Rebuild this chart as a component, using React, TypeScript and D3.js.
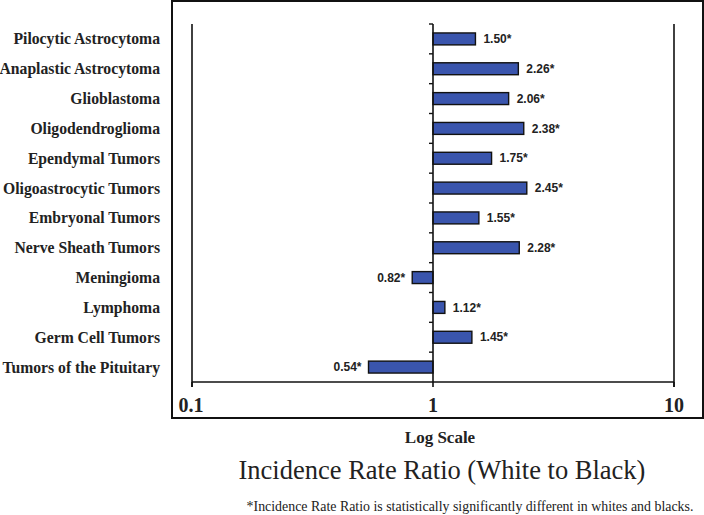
import React from "react";
import * as d3 from "d3";

const categories = [
  "Pilocytic Astrocytoma",
  "Anaplastic Astrocytoma",
  "Glioblastoma",
  "Oligodendroglioma",
  "Ependymal Tumors",
  "Oligoastrocytic Tumors",
  "Embryonal Tumors",
  "Nerve Sheath Tumors",
  "Meningioma",
  "Lymphoma",
  "Germ Cell Tumors",
  "Tumors of the Pituitary",
];
const values = [1.5, 2.26, 2.06, 2.38, 1.75, 2.45, 1.55, 2.28, 0.82, 1.12, 1.45, 0.54];
const valueLabels = ["1.50*", "2.26*", "2.06*", "2.38*", "1.75*", "2.45*", "1.55*", "2.28*", "0.82*", "1.12*", "1.45*", "0.54*"];
const xTicks = [0.1, 1, 10];
const xTickLabels = ["0.1", "1", "10"];

export default function App() {
  const W = 704, H = 515;
  const left = 192, right = 674, top = 24, bottom = 382;
  const x = d3.scaleLog().domain([0.1, 10]).range([left, right]);
  const y = d3.scaleBand<string>().domain(categories).range([top, bottom]).paddingInner(0.6).paddingOuter(0.3);
  const yb = d3.scaleBand<string>().domain(categories).range([top, bottom]);
  const x1 = x(1);
  const serif = "'Liberation Serif', 'Times New Roman', serif";
  const sans = "'Liberation Sans', Arial, sans-serif";
  return (
    <svg width={W} height={H} style={{ position: "absolute", left: 0, top: 0, background: "#fff" }}>
      <rect x={0} y={0} width={W} height={H} fill="#fff" />
      <rect x={172} y={1} width={531} height={417} fill="none" stroke="#111" strokeWidth={2} />
      <line x1={left} x2={left} y1={top} y2={bottom + 5} stroke="#111" strokeWidth={1.6} />
      <line x1={right} x2={right} y1={top} y2={bottom + 5} stroke="#111" strokeWidth={1.6} />
      <line x1={left} x2={right} y1={bottom} y2={bottom} stroke="#111" strokeWidth={1.6} />
      {xTicks.map((t, i) => (
        <g key={i}>
          <line x1={x(t)} x2={x(t)} y1={bottom} y2={bottom + 5} stroke="#111" strokeWidth={1.6} />
          <text x={x(t) - (i === 0 ? 1 : 0)} y={412} textAnchor="middle" fontFamily={serif} fontWeight="bold" fontSize={20} fill="#222">
            {xTickLabels[i]}
          </text>
        </g>
      ))}
      {categories.map((c, i) => {
        const v = values[i];
        const x0 = Math.min(x(v), x1);
        const w = Math.abs(x(v) - x1);
        const yc = (y(c) as number) + y.bandwidth() / 2;
        return (
          <g key={c}>
            <rect x={x0} y={y(c)} width={w} height={y.bandwidth()} fill="#3a55ad" stroke="#111" strokeWidth={1.4} />
            <text
              x={v >= 1 ? x(v) + 8 : x(v) - 7}
              y={yc}
              dy="0.35em"
              textAnchor={v >= 1 ? "start" : "end"}
              fontFamily={sans}
              fontWeight="bold"
              fontSize={12}
              fill="#222"
            >
              {valueLabels[i]}
            </text>
            <text x={160} y={yc} dy="0.35em" textAnchor="end" fontFamily={serif} fontWeight="bold" fontSize={15.7} fill="#222">
              {c}
            </text>
          </g>
        );
      })}
      <line x1={x1} x2={x1} y1={top} y2={bottom} stroke="#111" strokeWidth={1.6} />
      {categories.map((c, i) => (
        <line key={i} x1={x1 - 4} x2={x1} y1={yb(c)} y2={yb(c)} stroke="#111" strokeWidth={1.4} />
      ))}
      <text x={440} y={443} textAnchor="middle" fontFamily={serif} fontWeight="bold" fontSize={17} fill="#222">
        Log Scale
      </text>
      <text x={442} y={479} textAnchor="middle" fontFamily={serif} fontSize={26.5} fill="#222">
        Incidence Rate Ratio (White to Black)
      </text>
      <text x={470} y={511} textAnchor="middle" fontFamily={serif} fontSize={13.9} fill="#222">
        *Incidence Rate Ratio is statistically significantly different in whites and blacks.
      </text>
    </svg>
  );
}
